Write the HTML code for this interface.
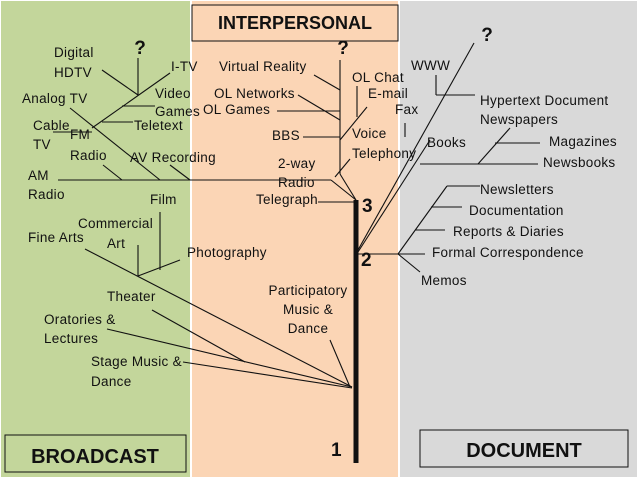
<!DOCTYPE html>
<html><head><meta charset="utf-8"><style>
html,body{margin:0;padding:0;background:#fff}
svg{display:block}
text{font-family:"Liberation Sans",sans-serif;font-size:13.5px;letter-spacing:0.3px;fill:#111}
.b{font-weight:bold;letter-spacing:0}
</style></head><body>
<svg width="638" height="479" viewBox="0 0 638 479" xmlns="http://www.w3.org/2000/svg">
<rect x="0" y="0" width="638" height="479" fill="#fff"/>
<rect x="1" y="1" width="189" height="476" fill="#c3d69b"/>
<rect x="192" y="1" width="206" height="476" fill="#fbd5b5"/>
<rect x="400" y="1" width="237" height="476" fill="#d9d9d9"/>
<rect x="192" y="5" width="206" height="36" fill="#fbd5b5" stroke="#111" stroke-width="1"/>
<text x="295" y="29" text-anchor="middle" class="b" style="font-size:18px">INTERPERSONAL</text>
<rect x="5" y="435" width="181" height="37" fill="none" stroke="#111" stroke-width="1"/>
<text x="95" y="463" text-anchor="middle" class="b" style="font-size:20px">BROADCAST</text>
<rect x="420" y="430" width="208" height="37" fill="none" stroke="#111" stroke-width="1"/>
<text x="524" y="457" text-anchor="middle" class="b" style="font-size:20px">DOCUMENT</text>
<g stroke="#111" stroke-width="1.1" fill="none">
<line x1="356" y1="200" x2="356" y2="463" stroke-width="5"/>
<line x1="92" y1="128" x2="170" y2="73"/>
<line x1="138" y1="58" x2="138" y2="95"/>
<line x1="102" y1="70" x2="138" y2="95"/>
<line x1="122" y1="106" x2="155" y2="106"/>
<line x1="102" y1="122" x2="133" y2="122"/>
<line x1="53" y1="132" x2="92" y2="132"/>
<line x1="70" y1="108" x2="160" y2="180"/>
<line x1="103" y1="165" x2="122" y2="180"/>
<line x1="170" y1="165" x2="190" y2="180"/>
<line x1="58" y1="180" x2="331" y2="180"/>
<line x1="331" y1="180" x2="356" y2="200"/>
<line x1="318" y1="202" x2="356" y2="202"/>
<line x1="160" y1="212" x2="160" y2="270"/>
<line x1="138" y1="245" x2="138" y2="276"/>
<line x1="180" y1="260" x2="138" y2="276"/>
<line x1="85" y1="249" x2="352" y2="387"/>
<line x1="152" y1="310" x2="245" y2="362"/>
<line x1="107" y1="329" x2="352" y2="387"/>
<line x1="183" y1="362" x2="352" y2="388"/>
<line x1="330" y1="340" x2="350" y2="387"/>
<line x1="340" y1="60" x2="340" y2="174"/>
<line x1="340" y1="174" x2="356" y2="200"/>
<line x1="314" y1="75" x2="340" y2="90"/>
<line x1="298" y1="95" x2="340" y2="120"/>
<line x1="277" y1="111" x2="340" y2="111"/>
<line x1="303" y1="137" x2="340" y2="137"/>
<line x1="357" y1="86" x2="357" y2="117"/>
<line x1="367" y1="107" x2="340" y2="140"/>
<line x1="350" y1="159" x2="335" y2="177"/>
<line x1="474" y1="43" x2="358" y2="250"/>
<line x1="436" y1="75" x2="436" y2="95"/>
<line x1="436" y1="95" x2="475" y2="95"/>
<line x1="405" y1="123" x2="405" y2="137"/>
<line x1="430" y1="140" x2="358" y2="252"/>
<line x1="420" y1="164" x2="538" y2="164"/>
<line x1="510" y1="128" x2="478" y2="164"/>
<line x1="495" y1="143" x2="540" y2="143"/>
<line x1="358" y1="254" x2="425" y2="254"/>
<line x1="398" y1="254" x2="447" y2="186"/>
<line x1="447" y1="186" x2="480" y2="186"/>
<line x1="431" y1="207" x2="462" y2="207"/>
<line x1="415" y1="230" x2="445" y2="230"/>
<line x1="398" y1="254" x2="420" y2="272"/>
</g>
<text x="140" y="54" text-anchor="middle" class="b" style="font-size:19px">?</text>
<text x="343" y="54" text-anchor="middle" class="b" style="font-size:19px">?</text>
<text x="487" y="41" text-anchor="middle" class="b" style="font-size:19px">?</text>
<text x="362" y="212" class="b" style="font-size:19px">3</text>
<text x="361" y="266" class="b" style="font-size:19px">2</text>
<text x="331" y="456" class="b" style="font-size:19px">1</text>
<text x="54" y="57">Digital</text>
<text x="54" y="77">HDTV</text>
<text x="171" y="71">I-TV</text>
<text x="22" y="103">Analog TV</text>
<text x="155" y="98">Video</text>
<text x="155" y="116">Games</text>
<text x="33" y="130">Cable</text>
<text x="33" y="149">TV</text>
<text x="70" y="139">FM</text>
<text x="70" y="160">Radio</text>
<text x="134" y="130">Teletext</text>
<text x="130" y="162">AV Recording</text>
<text x="28" y="180">AM</text>
<text x="28" y="199">Radio</text>
<text x="150" y="204">Film</text>
<text x="78" y="228">Commercial</text>
<text x="107" y="248">Art</text>
<text x="28" y="242">Fine Arts</text>
<text x="187" y="257">Photography</text>
<text x="107" y="301">Theater</text>
<text x="44" y="324">Oratories &amp;</text>
<text x="44" y="343">Lectures</text>
<text x="91" y="366">Stage Music &amp;</text>
<text x="91" y="386">Dance</text>
<text x="308" y="295" text-anchor="middle">Participatory</text>
<text x="308" y="314" text-anchor="middle">Music &amp;</text>
<text x="308" y="333" text-anchor="middle">Dance</text>
<text x="219" y="71">Virtual Reality</text>
<text x="214" y="98">OL Networks</text>
<text x="203" y="114">OL Games</text>
<text x="272" y="140">BBS</text>
<text x="278" y="168">2-way</text>
<text x="278" y="187">Radio</text>
<text x="256" y="204">Telegraph</text>
<text x="352" y="82">OL Chat</text>
<text x="368" y="98">E-mail</text>
<text x="395" y="114">Fax</text>
<text x="352" y="138">Voice</text>
<text x="352" y="158">Telephony</text>
<text x="411" y="70">WWW</text>
<text x="480" y="105">Hypertext Document</text>
<text x="480" y="124">Newspapers</text>
<text x="549" y="146">Magazines</text>
<text x="543" y="167">Newsbooks</text>
<text x="427" y="147">Books</text>
<text x="480" y="194">Newsletters</text>
<text x="469" y="215">Documentation</text>
<text x="453" y="236">Reports &amp; Diaries</text>
<text x="432" y="257">Formal Correspondence</text>
<text x="421" y="285">Memos</text>
</svg>
</body></html>
